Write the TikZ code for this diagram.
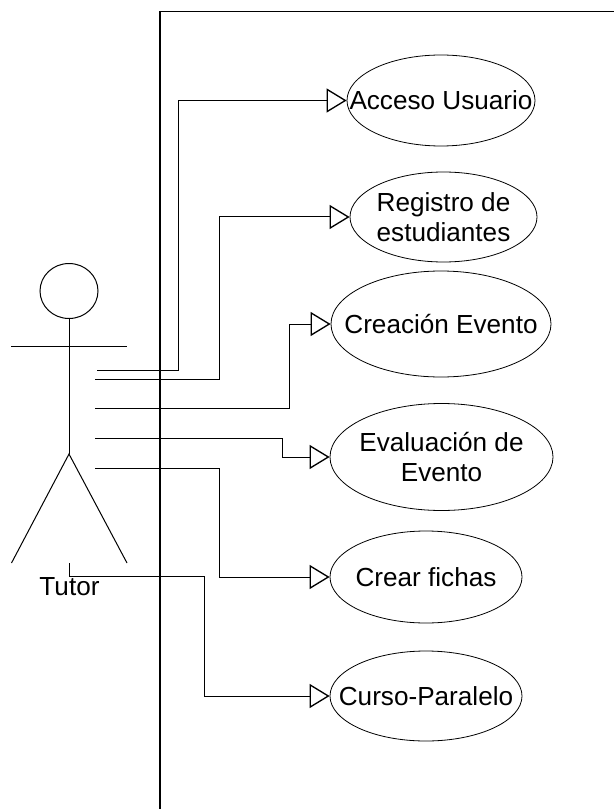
\documentclass[tikz,border=0pt]{standalone}
\usepackage{fontspec}
\setmainfont{Liberation Sans}
\usetikzlibrary{arrows.meta, shapes.geometric}

\tikzset{
    usecase/.style={draw, ellipse, inner sep=0pt, line width=0.6pt},
    casetext/.style={align=center, inner sep=0pt, font=\fontsize{19.6}{22.5}\selectfont},
    stick/.style={line width=0.75pt},
    link/.style={line width=0.75pt, -{Triangle[open, length=15pt, width=18pt, line width=1pt]}},
    boundary/.style={line width=1.4pt}
}

\begin{document}
\begin{tikzpicture}[x=0.75pt, y=-0.75pt]
        \useasboundingbox (0, 0) rectangle (614, 809);

        % System boundary
        \coordinate (bstart) at (160, 809);
        \coordinate (bcorner) at (160, 11.5);
        \coordinate (bend) at (614, 11.5);
        \draw[boundary] (bstart) -- (bcorner) -- (bend);

        % Actor
        \node[draw, ellipse, stick, minimum width=43.5pt, minimum height=41.25pt, inner sep=0pt] (head) at (69, 291) {};
        \coordinate (hip) at (69, 454);
        \coordinate (armL) at (11, 346.5);
        \coordinate (armR) at (127, 346.5);
        \coordinate (footL) at (11.5, 563);
        \coordinate (footR) at (127, 563);
        \draw[stick] (head.south) -- (hip);
        \draw[stick] (armL) -- (armR);
        \draw[stick] (footL) -- (hip) -- (footR);
        \node[casetext] (tutor) at (69.5, 587) {Tutor};

        % Use cases
        \foreach \name/\x/\y/\w/\h/\txt in {
            acceso/441/100.5/188/91/{Acceso Usuario},
            registro/443.5/217/187/90/{Registro de\\estudiantes},
            creacion/441/324/220/106/{Creación Evento},
            evaluacion/441.5/457/223/107/{Evaluación de\\Evento},
            fichas/426/577/192/92/{Crear fichas},
            curso/426/696/192/90/{Curso-Paralelo}} {
            \node[usecase, minimum width=\w*0.75pt, minimum height=\h*0.75pt,
                label={[casetext]center:\txt}] (\name) at (\x, \y) {};
        }

        % Line ends at the actor
        \coordinate (s1) at (97, 370);
        \coordinate (s2) at (95, 379.5);
        \coordinate (s3) at (95, 408);
        \coordinate (s4) at (95, 438);
        \coordinate (s5) at (95, 468.5);
        \coordinate (s6) at (69, 563);

        % Connectors
        \draw[link] (s1) -- (178, 370) |- (acceso.west);
        \draw[link] (s2) -- (219.5, 379.5) |- (registro.west);
        \draw[link] (s3) -- (289, 408) |- (creacion.west);
        \draw[link] (s4) -- (282, 438) |- (evaluacion.west);
        \draw[link] (s5) -- (219.5, 468.5) |- (fichas.west);
        \draw[link] (s6) -- (69, 576) -- (204.5, 576) |- (curso.west);
    \end{tikzpicture}
\end{document}
